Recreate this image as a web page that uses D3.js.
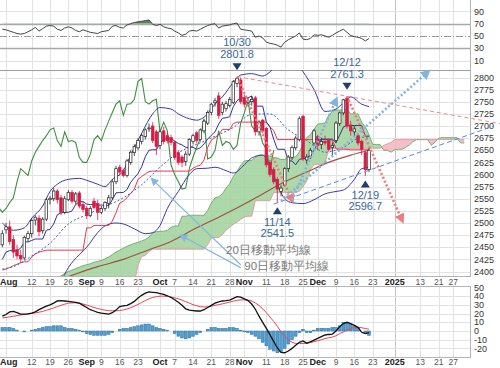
<!DOCTYPE html>
<html>
<head>
<meta charset="utf-8">
<script src="https://cdn.jsdelivr.net/npm/d3@7"></script>
<style>
html,body{margin:0;padding:0;background:#fff;}
svg{display:block;}
text{font-family:"Liberation Sans",Arial,sans-serif;}
</style>
</head>
<body>
<svg id="chart" width="500" height="368"></svg>
<script>
// ================= DATA =================
const holidays = ["2024-09-02","2024-11-28","2024-12-25","2025-01-01","2025-01-20"];
const candleStart = "2024-07-31";
const openVals = [2455,2486,2492,2466,2445,2433,2428,2468,2478,2506,2510,2484,2508,
2548,2550,2566,2552,2522,2548,2563,2545,2562,2538,
2530,2515,2545,2540,2522,2530,2540,2552,2585,2615,
2608,2598,2625,2645,2655,2668,2678,2694,2700,2688,
2660,2690,2680,2676,2666,2645,2636,2627,2642,2668,
2686,2672,2690,2706,2728,2748,2762,2728,2736,2742,
2748,2788,2795,2758,2748,2750,2758,2688,2712,2695,
2625,2610,2590,2565,2578,2612,2635,2655,2672,2720,
2630,2638,2665,2678,2662,2668,2670,2656,2670,2705,
2727,2758,2702,2688,2680,2668,2645,2610];
const highVals = [2485,2500,2505,2475,2455,2445,2474,2484,2510,2516,2516,2512,2552,
2556,2572,2570,2558,2556,2568,2568,2564,2566,2545,
2535,2535,2552,2548,2535,2545,2558,2590,2618,2620,
2612,2632,2650,2662,2675,2685,2695,2705,2708,2692,
2692,2698,2686,2682,2670,2650,2640,2648,2675,2684,
2690,2695,2712,2732,2748,2758,2770,2750,2752,2760,
2795,2801.8,2800,2765,2758,2762,2762,2712,2715,2698,
2630,2615,2595,2578,2615,2640,2660,2680,2720,2724,
2642,2655,2694,2682,2676,2680,2674,2666,2710,2730,
2756,2761.3,2710,2700,2685,2672,2650,2655];
const lowVals = [2450,2478,2455,2428,2425,2418,2424,2462,2470,2495,2472,2478,2504,
2538,2545,2540,2516,2518,2545,2540,2538,2530,2522,
2508,2512,2528,2506,2518,2525,2530,2548,2580,2598,
2594,2594,2620,2638,2650,2662,2672,2688,2665,2640,
2652,2662,2664,2660,2630,2620,2615,2618,2638,2662,
2664,2668,2685,2702,2722,2740,2715,2722,2730,2738,
2745,2780,2745,2738,2740,2742,2680,2680,2685,2615,
2595,2580,2541.5,2555,2575,2605,2630,2650,2668,2628,
2622,2632,2660,2650,2652,2660,2648,2640,2665,2700,
2722,2695,2680,2678,2660,2640,2596.7,2605];
const closeVals = [2478,2492,2462,2440,2432,2426,2470,2478,2505,2512,2482,2508,2548,
2551,2566,2548,2522,2550,2563,2545,2560,2535,2528,
2515,2530,2532,2522,2530,2542,2552,2585,2612,2605,
2598,2628,2646,2658,2670,2680,2692,2696,2670,2658,
2688,2668,2670,2666,2635,2625,2625,2642,2672,2680,
2670,2692,2710,2728,2745,2752,2722,2745,2746,2755,
2792,2798,2750,2745,2752,2755,2688,2708,2690,2620,
2600,2585,2570,2572,2612,2636,2656,2675,2715,2632,
2636,2650,2690,2660,2668,2665,2652,2660,2706,2727,
2754,2700,2690,2694,2665,2652,2610,2650];
// Ichimoku conversion (navy) and base (red) lines, from candleStart
const tenkanVals = [2425,2440,2443,2443,2443,2448,2461,2461,2464,2467,2467,2467,2485,
2487,2498,2517,2521,2522,2522,2525,2538,2544,2544,
2539,2538,2538,2537,2537,2536,2536,2548,2562,2563,
2563,2569,2584,2593,2602,2616,2637,2650,2651,2651,
2664,2673,2674,2674,2669,2664,2661,2656,2656,2656,
2652,2655,2663,2673,2681,2688,2704,2716,2717,2719,
2740,2752,2758,2758,2758,2762,2741,2741,2741,2708,
2698,2673,2652,2652,2652,2628,2628,2620,2631,2633,
2633,2640,2650,2665,2673,2673,2673,2673,2666,2681,
2698,2701,2701,2701,2701,2701,2679,2679];
const kijunVals = [2403,2405,2408,2412,2415,2418,2420,2420,2430,2436,2440,2442,2444,
2444,2444,2444,2444,2444,2444,2444,2444,2444,2444,
2490,2490,2495,2495,2495,2495,2495,2504,2521,2541,
2545,2552,2561,2570,2590,2596,2601,2606,2607,2607,
2607,2607,2607,2607,2607,2607,2607,2607,2607,2613,
2617,2619,2630,2656,2671,2676,2682,2693,2693,2693,
2705,2708,2708,2708,2708,2708,2708,2708,2708,2708,
2698,2691,2672,2672,2672,2672,2672,2672,2672,2672,
2672,2672,2672,2672,2672,2672,2672,2671,2653,2652,
2652,2652,2651,2651,2651,2651,2651,2651];
// leading spans of the cloud, from cloudStart
const cloudStart = "2024-08-21";
const spanAVals = [2386,2391,2396,2400,2403,2406,2409,2412,2414,2416,
2419,2421,2423,2426,2430,2435,2440,2444,2448,2452,
2455,2458,2460,2463,2466,2471,2480,2482,2483,2483,
2485,2491,2494,2494,2514,2514,2516,2516,2516,2516,
2516,2526,2541,2552,2554,2560,2572,2581,2596,2606,
2619,2628,2629,2629,2635,2640,2640,2640,2638,2635,
2634,2631,2631,2634,2634,2637,2646,2664,2676,2682,
2693,2704,2705,2706,2722,2730,2733,2733,2733,2735,
2725,2725,2725,2708,2698,2682,2662,2662,2662,2650,
2650,2646,2651,2652,2652,2656,2661,2668,2672,2672,
2672,2672,2660,2667,2675,2676,2676,2676,2676,2676,
2665,2665];
const spanBVals = [2375,2375,2375,2375,2375,2375,2375,2375,2375,2375,
2375,2375,2375,2375,2375,2375,2375,2375,2375,2375,
2375,2375,2413,2431,2433,2441,2446,2446,2446,2446,
2446,2446,2446,2446,2446,2446,2446,2446,2446,2446,
2446,2455,2469,2470,2470,2476,2485,2491,2497,2502,
2507,2512,2514,2514,2546,2546,2546,2546,2546,2563,
2563,2563,2563,2563,2563,2563,2565,2575,2586,2610,
2620,2621,2621,2624,2650,2654,2654,2654,2654,2654,
2654,2654,2654,2654,2654,2654,2654,2654,2654,2660,
2663,2666,2672,2672,2672,2672,2672,2672,2672,2672,
2672,2672,2672,2672,2672,2672,2672,2672,2672,2672,
2672,2672];
const chikouShift = 26;
const ma20 = [["2024-07-31",2405],["2024-08-05",2410],["2024-08-12",2432],["2024-08-19",2458],["2024-08-26",2498],["2024-09-03",2517],["2024-09-10",2534],["2024-09-17",2552],["2024-09-24",2579],["2024-10-01",2615],["2024-10-08",2645],["2024-10-15",2662],["2024-10-22",2679],["2024-10-29",2697],["2024-11-05",2724],["2024-11-12",2725],["2024-11-19",2692],["2024-11-26",2670],["2024-12-04",2646],["2024-12-11",2656],["2024-12-18",2677],["2024-12-20",2674]];
const ma90 = [["2024-07-31",2345],["2024-08-19",2375],["2024-08-28",2395],["2024-09-06",2410],["2024-09-17",2425],["2024-09-26",2445],["2024-10-04",2462],["2024-10-15",2490],["2024-10-23",2512],["2024-10-31",2535],["2024-11-08",2560],["2024-11-18",2585],["2024-11-26",2605],["2024-12-05",2625],["2024-12-13",2640],["2024-12-20",2650]];
const bbUpper = [["2024-07-31",2500],["2024-08-05",2485],["2024-08-08",2490],["2024-08-12",2510],["2024-08-15",2535],["2024-08-19",2565],["2024-08-21",2580],["2024-08-26",2590],["2024-08-29",2592],["2024-09-03",2588],["2024-09-06",2580],["2024-09-10",2575],["2024-09-12",2590],["2024-09-17",2608],["2024-09-19",2640],["2024-09-24",2685],["2024-09-27",2725],["2024-10-01",2738],["2024-10-04",2735],["2024-10-08",2725],["2024-10-11",2715],["2024-10-15",2712],["2024-10-17",2718],["2024-10-22",2745],["2024-10-24",2760],["2024-10-29",2790],["2024-10-31",2805],["2024-11-05",2808],["2024-11-08",2803],["2024-11-11",2806],["2024-11-14",2825],["2024-11-19",2835],["2024-11-22",2822],["2024-11-25",2812],["2024-11-29",2775],["2024-12-04",2730],["2024-12-09",2735],["2024-12-11",2748],["2024-12-13",2760],["2024-12-18",2745],["2024-12-20",2740]];
const bbLower = [["2024-07-31",2345],["2024-08-12",2352],["2024-08-19",2350],["2024-08-22",2380],["2024-08-26",2408],["2024-08-29",2435],["2024-09-03",2450],["2024-09-06",2480],["2024-09-10",2494],["2024-09-13",2500],["2024-09-17",2498],["2024-09-20",2488],["2024-09-25",2478],["2024-09-27",2480],["2024-10-01",2495],["2024-10-03",2530],["2024-10-08",2565],["2024-10-11",2600],["2024-10-15",2612],["2024-10-18",2613],["2024-10-22",2615],["2024-10-25",2608],["2024-10-29",2603],["2024-11-01",2620],["2024-11-05",2634],["2024-11-08",2640],["2024-11-11",2632],["2024-11-14",2580],["2024-11-18",2550],["2024-11-20",2542],["2024-11-25",2540],["2024-11-29",2548],["2024-12-04",2560],["2024-12-09",2565],["2024-12-11",2568],["2024-12-16",2590],["2024-12-18",2612],["2024-12-20",2615]];
const rsiVals = [61,60,58,56,54,53,54,57,60,64,58,62,66,
67,66,61,59,63,65,63,59,57,60,
58,56,55,54,57,58,59,66,67,64,
63,68,70,72,73,74,75,76,69,67,
69,65,63,62,58,55,51,53,58,59,
58,61,64,67,69,70,63,66,67,68,
70,71,61,60,59,58,48,50,47,40,
38,37,35,32,40,44,47,50,55,45,
44,46,52,51,52,50,48,51,55,58,
61,56,51,49,48,46,42,46];
const macdVals = [17,19,22,22.5,21,19.5,19.5,19.8,20.5,22,24.5,26.5,28.5,
30,32,34.5,35,34.5,34,33.5,33,32,29.5,
27,24.5,23,21.5,20.5,20,19.5,21,24,28,
29,29.5,31.5,34,38,41,43.5,45,44.5,44,
43,42,40.5,38.5,36,33,29.5,25.5,24,23.5,
23,23,24.5,27,29.5,32,33.5,34.5,35,35.6,
37.5,39.5,39,37,35,31,25,17,10,3,
-4.5,-12,-19.5,-24.5,-25,-23,-20,-16.5,-13,-11.5,
-14,-12.5,-10.5,-8.5,-6.5,-4.6,-4,-3.5,0,5,
8.5,10,8.5,6.5,4.2,-1.5,-3,-2];
const signalVals = [15,15.6,16.3,17,17.6,18.4,19,19.6,20.2,20.8,21.6,22.5,23.8,
25,26.5,28,29.5,30.8,32,32.3,32.4,32,31,
29.8,28.5,27,25.8,24.8,24,23.4,23.2,23.2,23.5,
24.2,25.3,26.8,28.5,30.5,32.8,35,37,38.5,39.5,
40,40,39.8,39.2,38.2,37,35.5,33.7,32,30.3,
29,28,27.6,27.8,28.5,29.5,30.3,31.2,32.2,33.2,
34.3,35.3,35.7,35.8,35.6,34.5,32.3,29.3,25.5,21,
16,11,5.5,-1,-6,-10,-13,-14.3,-14.5,-14.3,
-14,-13.3,-12.3,-11.2,-10,-8.8,-7.8,-7,-5.5,-3,
-1,1.2,3,4,4.2,3.8,2.8,2];
const histVals = [4,4,4,3,1,0,-1,0,1,2,3,4,5,
5,6,6,6,4,3,3,2,1,-1,
-3,-4,-5,-5,-5,-5,-4,-2,0,2,
3,3,4,5,6,7,8,8,6,4,
3,2,1,0,-3,-6,-8,-9,-8,-6,
-4,-2,0,2,4,4,3,3,3,4,
4,3,1,-1,-2,-4,-6,-9,-13,-17,
-21,-23,-25,-24,-20,-15,-10,-6,-2,2,
-2,-2,1,3,3,3,3,4,4,6,
10,10,8,6,3,0,-3,-5];
const priceTicks = [2400,2425,2450,2475,2500,2525,2550,2575,2600,2625,2650,2675,2700,2725,2750,2775,2800];
const rsiTicks = [90,70,50,30,10];
const macdTicks = [50,40,30,20,10,0,-10,-20];
const dateTicks = [["2024-08-01","Aug",1],["2024-08-12","12",0],["2024-08-19","19",0],["2024-08-26","26",0],["2024-09-03","Sep",1],["2024-09-09","9",0],["2024-09-16","16",0],["2024-09-23","23",0],["2024-10-01","Oct",1],["2024-10-07","7",0],["2024-10-14","14",0],["2024-10-21","21",0],["2024-10-28","28",0],["2024-11-01","Nov",1],["2024-11-11","11",0],["2024-11-18","18",0],["2024-11-25","25",0],["2024-12-02","Dec",1],["2024-12-09","9",0],["2024-12-16","16",0],["2024-12-23","23",0],["2025-01-02","2025",1],["2025-01-13","13",0],["2025-01-21","21",0],["2025-01-27","27",0]];
const extremes = [
  {date:"2024-10-30", price:2801.8, label:"10/30", value:"2801.8", side:"top"},
  {date:"2024-12-12", price:2761.3, label:"12/12", value:"2761.3", side:"top"},
  {date:"2024-11-14", price:2541.5, label:"11/14", value:"2541.5", side:"bottom"},
  {date:"2024-12-19", price:2596.7, label:"12/19", value:"2596.7", side:"bottom"}
];
const trendLines = [
  {from:["2024-10-30",2801.8], to:["2024-12-12",2761.3], extend:true, color:"#f28a8a", width:1, dash:"4,3", arrow:false},
  {from:["2024-11-13",2539], to:["2025-02-11",2700], extend:false, color:"#4f8fd6", width:1, dash:"5,3", arrow:false},
  {from:["2024-10-30",2801.8], to:["2024-11-20",2547], extend:false, color:"#f27a7a", width:2.6, dash:"2,2.2", arrow:true},
  {from:["2024-12-12",2761.3], to:["2025-01-06",2506], extend:false, color:"#f27a7a", width:2.6, dash:"2,2.2", arrow:true},
  {from:["2024-11-15",2545], to:["2025-01-15",2811], extend:false, color:"#82b4e2", width:2.6, dash:"2,2.2", arrow:true},
  {from:["2024-11-20",2547], to:["2024-12-09",2754], extend:false, color:"#82b4e2", width:2.6, dash:"2,2.2", arrow:true}
];
const maLabels = [
  {text:"20日移動平均線", at:["2024-10-25",2444]},
  {text:"90日移動平均線", at:["2024-11-01",2411]}
];
const maArrows = [
  {from:["2024-10-31",2414], to:["2024-09-27",2589]},
  {from:["2024-10-31",2408], to:["2024-10-09",2473]}
];

// ================= SCALES =================
const fmt = d3.utcFormat("%Y-%m-%d");
const cal = d3.utcDay.range(new Date(Date.UTC(2024,6,15)), new Date(Date.UTC(2025,1,28)))
  .filter(d => d.getUTCDay() % 6 !== 0 && !holidays.includes(fmt(d))).map(fmt);
const ref = cal.indexOf("2024-08-19");
const I = s => cal.indexOf(s) - ref;

const plotW = 470;
const PR = {top:70, bottom:276}, RS = {top:0, bottom:69}, MC = {top:286, bottom:357};
const x = d3.scaleLinear().domain([-13.64, 114.54]).range([0, plotW]);
const yP = d3.scaleLinear().domain([2400, 2800]).range([271.5, 77.5]);
const yR = d3.scaleLinear().domain([10, 90]).range([60.6, 11.4]);
const yM = d3.scaleLinear().domain([-20, 40]).range([348.4, 296.2]);

const seq = (start, vals) => vals.map((v, k) => ({i: I(start) + k, v}));
const pairs = arr => arr.map(d => ({i: I(d[0]), v: d[1]}));

const svg = d3.select("#chart");
const defs = svg.append("defs");
function clipRect(id, t, b){ defs.append("clipPath").attr("id", id).append("rect").attr("x",0).attr("y",t).attr("width",plotW).attr("height",b-t); }
clipRect("cPrice", PR.top, PR.bottom); clipRect("cRsi", RS.top, RS.bottom); clipRect("cMacd", MC.top, MC.bottom);

// ================= GRID =================
const gx = d => Math.round(x(I(d[0]))) + 0.5;
[PR, RS, MC].forEach(p => {
  svg.append("g").selectAll("line").data(dateTicks).join("line")
    .attr("x1", gx).attr("x2", gx).attr("y1", p.top).attr("y2", p.bottom)
    .attr("stroke", d => d[1] === "2025" ? "#c4c4c4" : "#e2e2e2").attr("stroke-width", 1);
});
svg.append("g").selectAll("line").data(priceTicks).join("line")
  .attr("x1", 0).attr("x2", plotW).attr("y1", d => Math.round(yP(d)) + 0.5).attr("y2", d => Math.round(yP(d)) + 0.5)
  .attr("stroke", "#e2e2e2");
svg.append("g").selectAll("line").data(macdTicks.filter(t => t < 50)).join("line")
  .attr("x1", 0).attr("x2", plotW).attr("y1", d => Math.round(yM(d)) + 0.5).attr("y2", d => Math.round(yM(d)) + 0.5)
  .attr("stroke", "#e2e2e2");
svg.append("g").selectAll("line").data(rsiTicks).join("line")
  .attr("x1", 0).attr("x2", plotW).attr("y1", d => Math.round(yR(d)) + 0.5).attr("y2", d => Math.round(yR(d)) + 0.5)
  .attr("stroke", d => (d === 70 || d === 30) ? "#a8a8a8" : (d === 50 ? "#9a9a9a" : "#e2e2e2"))
  .attr("stroke-width", d => (d === 70 || d === 30) ? 1.3 : 1)
  .attr("stroke-dasharray", d => d === 50 ? "7,2,1,2" : null);

// panel frames
const frame = svg.append("g").attr("stroke", "#b5b5b5").attr("fill", "none");
frame.append("line").attr("x1",0).attr("x2",plotW).attr("y1",PR.top+0.5).attr("y2",PR.top+0.5).attr("stroke","#9e9e9e");
frame.append("line").attr("x1",0).attr("x2",plotW).attr("y1",PR.bottom+0.5).attr("y2",PR.bottom+0.5);
frame.append("line").attr("x1",0).attr("x2",plotW).attr("y1",MC.top+0.5).attr("y2",MC.top+0.5);
frame.append("line").attr("x1",0).attr("x2",plotW).attr("y1",MC.bottom+0.5).attr("y2",MC.bottom+0.5);
[PR, RS, MC].forEach(p => frame.append("line").attr("x1",plotW+0.5).attr("x2",plotW+0.5).attr("y1",p.top).attr("y2",p.bottom+1));

// ================= AXIS LABELS =================
const axT = svg.append("g").attr("font-size", 9).attr("fill", "#333");
axT.selectAll(".pt").data(priceTicks).join("text").attr("x", 474).attr("y", d => yP(d)).attr("dy", "0.35em").text(d => d);
axT.selectAll(".rt").data(rsiTicks).join("text").attr("x", 474).attr("y", d => yR(d)).attr("dy", "0.35em").text(d => d);
axT.selectAll(".mt").data(macdTicks).join("text").attr("x", 474).attr("y", d => yM(d)).attr("dy", "0.35em").text(d => d);
[282, 362].forEach(yy => {
  svg.append("g").selectAll("text").data(dateTicks).join("text")
    .attr("x", d => x(I(d[0]))).attr("y", yy).attr("dy", "0.35em").attr("text-anchor", "middle")
    .attr("font-size", d => d[2] ? 9 : 8.5).attr("font-weight", d => d[2] ? "bold" : "normal")
    .attr("fill", d => d[2] ? "#222" : "#555").text(d => d[1])
    .each(function(){ const b = this.getBBox(); if (b.x < 0) { d3.select(this).attr("text-anchor","start").attr("x", 0); } });
});

// ================= RSI =================
const rsi = seq(candleStart, rsiVals);
const gR = svg.append("g").attr("clip-path", "url(#cRsi)");
defs.append("clipPath").attr("id", "cRsiHi").append("rect").attr("x",0).attr("y",0).attr("width",plotW).attr("height",yR(70));
gR.append("path").attr("clip-path", "url(#cRsiHi)")
  .attr("d", d3.area().x(d => x(d.i)).y0(yR(70)).y1(d => yR(d.v))(rsi)).attr("fill", "#4e8d4e");
gR.append("path").attr("d", d3.line().x(d => x(d.i)).y(d => yR(d.v))(rsi))
  .attr("fill", "none").attr("stroke", "#444").attr("stroke-width", 1);

// ================= PRICE =================
const gP = svg.append("g").attr("clip-path", "url(#cPrice)");
// cloud
const cloud = spanAVals.map((a, k) => ({i: I(cloudStart) + k, a, b: spanBVals[k]}));
defs.append("clipPath").attr("id", "aboveB").append("path")
  .attr("d", d3.area().x(d => x(d.i)).y0(0).y1(d => yP(d.b))(cloud));
defs.append("clipPath").attr("id", "belowB").append("path")
  .attr("d", d3.area().x(d => x(d.i)).y0(400).y1(d => yP(d.b))(cloud));
const cloudArea = d3.area().x(d => x(d.i)).y0(d => yP(d.b)).y1(d => yP(d.a));
gP.append("g").attr("clip-path", "url(#aboveB)").append("path").attr("d", cloudArea(cloud)).attr("fill", "#9fd19b").attr("opacity", 0.85);
gP.append("g").attr("clip-path", "url(#belowB)").append("path").attr("d", cloudArea(cloud)).attr("fill", "#f3b8c1").attr("opacity", 0.9);
gP.append("path").attr("d", d3.line().x(d => x(d.i)).y(d => yP(d.a))(cloud)).attr("fill","none").attr("stroke","#5f9f5f").attr("stroke-width",0.8);
gP.append("path").attr("d", d3.line().x(d => x(d.i)).y(d => yP(d.b))(cloud)).attr("fill","none").attr("stroke","#e48a96").attr("stroke-width",0.8);

const lineP = d3.line().x(d => x(d.i)).y(d => yP(d.v));
const smooth = d3.line().x(d => x(d.i)).y(d => yP(d.v)).curve(d3.curveMonotoneX);
// 90-day MA
gP.append("path").attr("d", smooth(pairs(ma90))).attr("fill","none").attr("stroke","#a0503e").attr("stroke-width",1.1);
// chikou span
const chikou = closeVals.map((v, k) => ({i: I(candleStart) + k - chikouShift, v}));
gP.append("path").attr("d", lineP(chikou)).attr("fill","none").attr("stroke","#3f8f3f").attr("stroke-width",1.1);
// bollinger
gP.append("path").attr("d", smooth(pairs(bbUpper))).attr("fill","none").attr("stroke","#3a3a9c").attr("stroke-width",1);
gP.append("path").attr("d", smooth(pairs(bbLower))).attr("fill","none").attr("stroke","#3a3a9c").attr("stroke-width",1);
// kijun / tenkan
gP.append("path").attr("d", lineP(seq(candleStart, kijunVals))).attr("fill","none").attr("stroke","#e8364e").attr("stroke-width",1);
gP.append("path").attr("d", lineP(seq(candleStart, tenkanVals))).attr("fill","none").attr("stroke","#32328f").attr("stroke-width",1);
// 20-day MA
gP.append("path").attr("d", smooth(pairs(ma20))).attr("fill","none").attr("stroke","#3b5fc4").attr("stroke-width",1).attr("stroke-dasharray","2,2");

// candles
const candles = openVals.map((o, k) => ({i: I(candleStart) + k, o, h: highVals[k], l: lowVals[k], c: closeVals[k]}));
const cw = 2.6;
const gC = gP.append("g");
gC.selectAll("line").data(candles).join("line")
  .attr("x1", d => x(d.i)).attr("x2", d => x(d.i)).attr("y1", d => yP(d.h)).attr("y2", d => yP(d.l))
  .attr("stroke", d => d.c >= d.o ? "#222" : "#d81b45").attr("stroke-width", 0.8);
gC.selectAll("rect").data(candles).join("rect")
  .attr("x", d => x(d.i) - cw/2).attr("width", cw)
  .attr("y", d => yP(Math.max(d.o, d.c))).attr("height", d => Math.max(0.8, Math.abs(yP(d.o) - yP(d.c))))
  .attr("fill", d => d.c >= d.o ? "#fff" : "#d81b45")
  .attr("stroke", d => d.c >= d.o ? "#222" : "#d81b45").attr("stroke-width", 0.7);

// ================= MACD =================
const gM = svg.append("g").attr("clip-path", "url(#cMacd)");
const hist = seq(candleStart, histVals);
gM.selectAll("rect").data(hist).join("rect")
  .attr("x", d => x(d.i) - 1.4).attr("width", 2.8)
  .attr("y", d => Math.min(yM(0), yM(d.v))).attr("height", d => Math.abs(yM(d.v) - yM(0)))
  .attr("fill", "#4f9fd3").attr("stroke", "#2b6f9e").attr("stroke-width", 0.5);
const lineM = d3.line().x(d => x(d.i)).y(d => yM(d.v));
gM.append("path").attr("d", lineM(seq(candleStart, signalVals))).attr("fill","none").attr("stroke","#ec4159").attr("stroke-width",1);
gM.append("path").attr("d", lineM(seq(candleStart, macdVals))).attr("fill","none").attr("stroke","#111").attr("stroke-width",1.3);

// ================= TREND LINES =================
function marker(id, color, size){
  defs.append("marker").attr("id", id).attr("viewBox","0 0 10 10").attr("refX", 6).attr("refY", 5)
    .attr("markerWidth", size).attr("markerHeight", size).attr("markerUnits","userSpaceOnUse").attr("orient","auto")
    .append("path").attr("d","M0,0L10,5L0,10z").attr("fill", color);
}
const gT = svg.append("g");
trendLines.forEach((t, k) => {
  let x1 = x(I(t.from[0])), y1 = yP(t.from[1]), x2 = x(I(t.to[0])), y2 = yP(t.to[1]);
  if (t.extend) { const s = (y2 - y1) / (x2 - x1); y2 = y1 + s * (500 - x1); x2 = 500; }
  const ln = gT.append("line").attr("x1",x1).attr("y1",y1).attr("x2",x2).attr("y2",y2)
    .attr("stroke", t.color).attr("stroke-width", t.width).attr("stroke-dasharray", t.dash);
  if (t.arrow) { marker("ar" + k, t.color, 10); ln.attr("marker-end", "url(#ar" + k + ")"); }
});

// moving average labels + arrows
marker("maArrow", "#86b6e0", 8);
maArrows.forEach(a => {
  svg.append("line").attr("x1", x(I(a.from[0]))).attr("y1", yP(a.from[1])).attr("x2", x(I(a.to[0]))).attr("y2", yP(a.to[1]))
    .attr("stroke", "#86b6e0").attr("stroke-width", 1.2).attr("marker-end", "url(#maArrow)");
});
maLabels.forEach(m => {
  svg.append("text").attr("x", x(I(m.at[0]))).attr("y", yP(m.at[1])).attr("dy","0.35em")
    .attr("font-family", "'Noto Sans CJK JP',sans-serif").attr("font-size", 11.5).attr("fill", "#7a7a7a").text(m.text);
});

// extremes
const gE = svg.append("g");
extremes.forEach(e => {
  const cx = x(I(e.date)), py = yP(e.price);
  const top = e.side === "top";
  const ty = top ? py - 10 : py + 8;
  const tri = top ? `M${cx-4.5},${ty-3.5}L${cx+4.5},${ty-3.5}L${cx},${ty+3.5}Z` : `M${cx-4.5},${ty+3.5}L${cx+4.5},${ty+3.5}L${cx},${ty-3.5}Z`;
  gE.append("path").attr("d", tri).attr("fill", "#1f4068");
  const l1 = top ? py - 34 : py + 19, l2 = top ? py - 22 : py + 30;
  gE.append("text").attr("x", cx).attr("y", l1).attr("dy","0.35em").attr("text-anchor","middle").attr("font-size", 11).attr("fill", "#3a6894").text(e.label);
  gE.append("text").attr("x", cx).attr("y", l2).attr("dy","0.35em").attr("text-anchor","middle").attr("font-size", 11).attr("fill", "#3a6894").text(e.value);
});
</script>
</body>
</html>
